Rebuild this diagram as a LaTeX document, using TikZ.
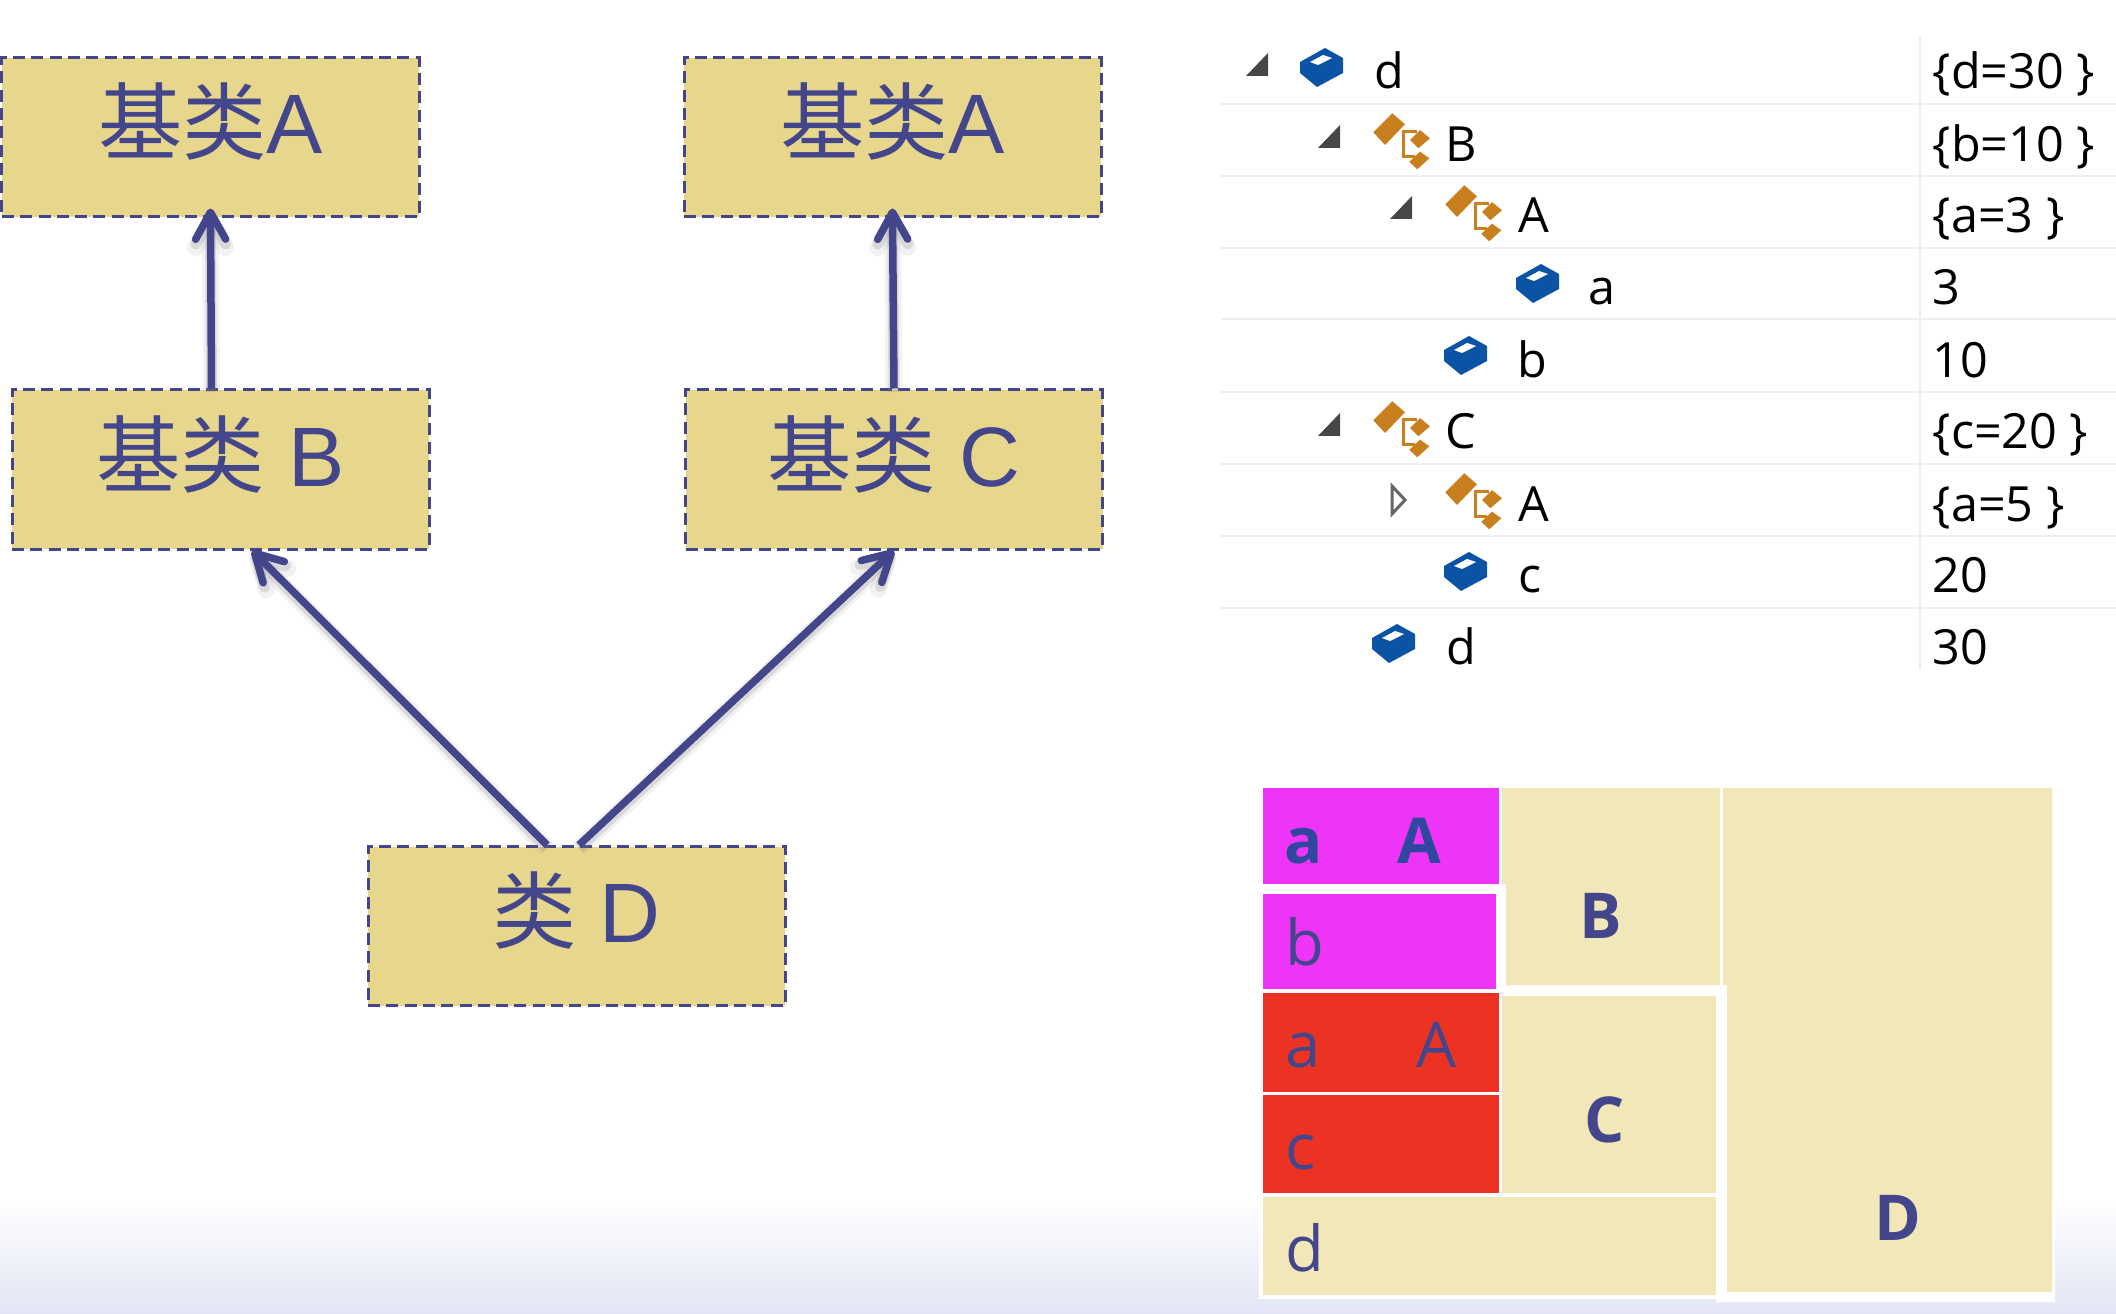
\documentclass[tikz,border=0pt]{standalone}
\usepackage{fontspec}
\setmainfont{Liberation Sans}
\newfontfamily\cjk{Noto Sans CJK SC}
\newfontfamily\treefont{Open Sans}
\usetikzlibrary{positioning,calc,arrows.meta}

\definecolor{inkblue}{HTML}{43468A}
\definecolor{boldblue}{HTML}{30479E}
\definecolor{boxfill}{HTML}{E7D78D}
\definecolor{paler}{HTML}{F2E7B8}
\definecolor{magbox}{HTML}{EE34F7}
\definecolor{redbox}{HTML}{EC3323}
\definecolor{fieldblue}{HTML}{0B54A5}
\definecolor{classorange}{HTML}{C8801E}
\definecolor{sepgray}{HTML}{EEEEEE}
\definecolor{fadeblue}{HTML}{E2E5F4}

\tikzset{
    classbox/.style = {draw = inkblue, fill = boxfill, line width = .03cm, dash pattern = on .12cm off .063cm,
        inner sep = 0, minimum width = 4.17cm, text height = .96cm, text depth = .63cm, text = inkblue,
        font = \fontsize{24pt}{24pt}\selectfont},
    inherit/.style = {draw = inkblue, line width = .075cm, -{Straight Barb[length = .27cm, width = .3cm, round]},
        preaction = {draw = gray, opacity = .1, line width = .17cm, transform canvas = {yshift = -.035cm}},
        preaction = {draw = gray, opacity = .22, line width = .11cm, transform canvas = {yshift = -.03cm}}},
    treetext/.style = {anchor = base west, inner sep = 0, text = black, font = \treefont\fontsize{13.8pt}{14pt}\selectfont},
    memtext/.style = {anchor = base west, inner sep = 0, text = inkblue, font = \treefont\fontsize{18pt}{18pt}\selectfont},
    membold/.style = {memtext, font = \treefont\bfseries\fontsize{18pt}{18pt}\selectfont},
    fieldicon/.pic = {
        \fill [fieldblue] (.04, .2) -- (.22, .1) -- (.22, -.05) -- (-.04, -.19) -- (-.21, -.05) -- (-.21, .06) -- cycle;
        \fill [white] (-.11, .06) -- (.02, .13) -- (.11, .1) -- (-.03, .03) -- cycle;
    },
    classicon/.pic = {
        \fill [classorange] (.023, .167) -- (.15, .057) -- (-.05, -.15) -- (-.167, -.023) -- cycle;
        \fill [classorange] (.3, 0) -- (.4, -.083) -- (.283, -.183) -- (.2, -.1) -- cycle;
        \fill [classorange] (.3, -.217) -- (.393, -.283) -- (.273, -.393) -- (.193, -.317) -- cycle;
        \draw [classorange, line width = .03cm] (.27, -.017) -- (.133, -.017) -- (.133, -.267) -- (.25, -.267);
    }
}

\begin{document}
\begin{tikzpicture}
    \useasboundingbox (0, 0) rectangle (21.16, -13.14);

    % bottom fade
    \fill [top color = white, bottom color = fadeblue] (0, -12) rectangle (21.16, -13.14);

    % inheritance
    \node (baseA1) [classbox] at (2.105, -1.375) {{\cjk 基类}A};
    \node (baseA2) [classbox] at (8.925, -1.375) {{\cjk 基类}A};
    \node (baseB) [classbox] at (2.205, -4.695) {{\cjk 基类} B};
    \node (baseC) [classbox] at (8.94, -4.695) {{\cjk 基类} C};
    \node (classD) [classbox] at (5.765, -9.26) {{\cjk 类} D};

    \draw [inherit, shorten > = -.1cm] ($(baseB.north)+(-.09, 0)$)  --  (baseA1.south);
    \draw [inherit, shorten > = -.1cm] (baseC.north)  --  (baseA2.south);
    \draw [inherit] ($(classD.north)+(-.295, 0)$)  --  ($(baseB.south)+(.315, 0)$);
    \draw [inherit] ($(classD.north)+(.025, 0)$)  --  (baseC.south);

    % debugger tree
    \foreach \ry in {1.04, 1.76, 2.48, 3.19, 3.92, 4.64, 5.36, 6.08}{
        \draw [sepgray, line width = .02cm] (12.21, -\ry)  --  (21.16, -\ry);
    }
    \draw [sepgray, line width = .02cm] (19.2, -.35)  --  (19.2, -6.7);

    \foreach \tx/\ty in {12.68/-.76, 13.4/-1.48, 14.12/-2.19, 13.4/-4.36}{
        \fill [black!72] (\tx, \ty) -- ++(0, .23) -- ++(-.22, -.23) -- cycle;
    }
    \draw [black!60, fill = white, line width = .03cm] (13.92, -4.86) -- (14.05, -5) -- (13.92, -5.14) -- cycle;

    \foreach \ix/\iy in {13.21/-.68, 15.37/-2.84, 14.65/-3.56, 14.65/-5.72, 13.93/-6.44}{
        \pic at (\ix, \iy) {fieldicon};
    }
    \foreach \ix/\iy in {13.9/-1.3, 14.62/-2.02, 13.9/-4.18, 14.62/-4.9}{
        \pic at (\ix, \iy) {classicon};
    }

    \node (nameD) [treetext] at (13.74, -.89) {d};
    \node (nameB) [treetext] at (14.45, -1.62) {B};
    \node (nameA) [treetext] at (15.18, -2.33) {A};
    \node (nameAa) [treetext] at (15.88, -3.05) {a};
    \node (nameb) [treetext] at (15.17, -3.77) {b};
    \node (nameC) [treetext] at (14.45, -4.48) {C};
    \node (nameAb) [treetext] at (15.18, -5.21) {A};
    \node (namec) [treetext] at (15.18, -5.93) {c};
    \node (named) [treetext] at (14.46, -6.64) {d};

    \node (valD) [treetext] at (19.32, -.89) {\{d=30 \}};
    \node (valB) [treetext] at (19.32, -1.62) {\{b=10 \}};
    \node (valA) [treetext] at (19.32, -2.33) {\{a=3 \}};
    \node (valAa) [treetext] at (19.32, -3.05) {3};
    \node (valb) [treetext] at (19.32, -3.77) {10};
    \node (valC) [treetext] at (19.32, -4.48) {\{c=20 \}};
    \node (valAb) [treetext] at (19.32, -5.21) {\{a=5 \}};
    \node (valc) [treetext] at (19.32, -5.93) {20};
    \node (vald) [treetext] at (19.32, -6.64) {30};

    % memory layout
    \fill [white] (12.59, -7.84) -- (20.55, -7.84) -- (20.55, -13.02) -- (17.16, -13.02) -- (17.16, -12.99) -- (12.59, -12.99) -- cycle;
    \fill [magbox] (12.625, -7.88) rectangle (14.99, -8.84);
    \fill [magbox] (12.625, -8.94) rectangle (14.96, -9.89);
    \fill [redbox] (12.625, -9.925) rectangle (14.99, -10.915);
    \fill [redbox] (12.625, -10.945) rectangle (14.99, -11.93);
    \fill [paler] (15.02, -7.88) -- (17.2, -7.88) -- (17.2, -9.85) -- (15.06, -9.85) -- (15.06, -8.84) -- (15.02, -8.84) -- cycle;
    \fill [paler] (15.02, -9.96) rectangle (17.16, -11.93);
    \fill [paler] (12.625, -11.97) rectangle (17.16, -12.95);
    \fill [paler] (17.23, -7.88) -- (20.52, -7.88) -- (20.52, -12.92) -- (17.27, -12.92) -- (17.27, -9.85) -- (17.23, -9.85) -- cycle;

    \node (memaA) [membold, text = boldblue] at (12.84, -8.63) {a};
    \node (memA) [membold, text = boldblue] at (13.97, -8.63) {A};
    \node (memb) [memtext] at (12.85, -9.65) {b};
    \node (memaB) [memtext] at (12.85, -10.67) {a};
    \node (memAb) [memtext] at (14.16, -10.67) {A};
    \node (memc) [memtext] at (12.85, -11.69) {c};
    \node (memd) [memtext] at (12.85, -12.71) {d};
    \node (memB) [membold] at (15.79, -9.38) {B};
    \node (memC) [membold] at (15.84, -11.42) {C};
    \node (memD) [membold] at (18.74, -12.4) {D};
\end{tikzpicture}
\end{document}
